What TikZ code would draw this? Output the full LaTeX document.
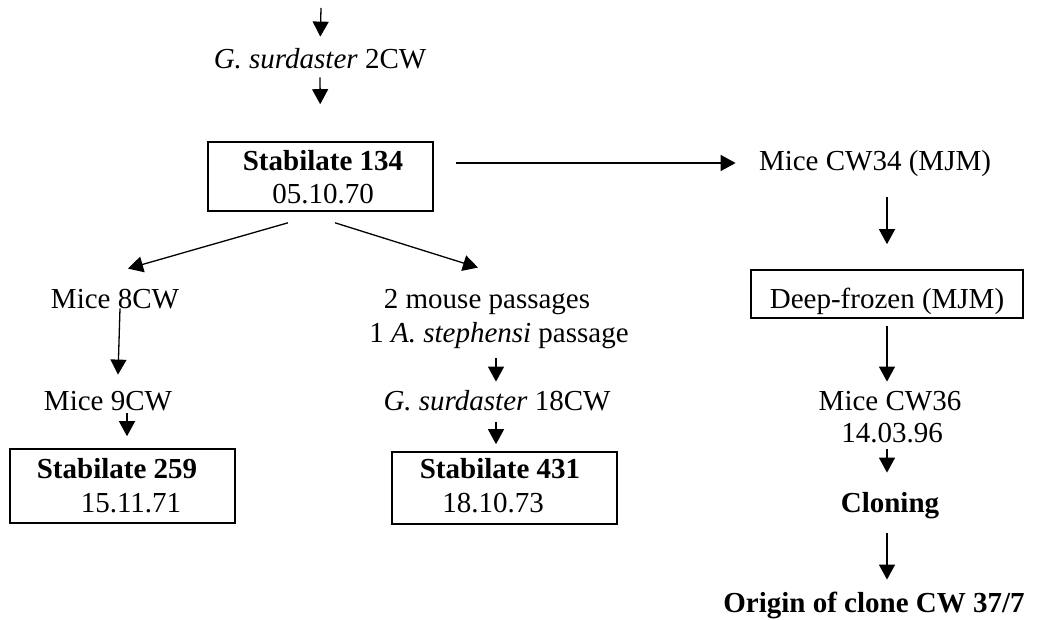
\documentclass[tikz,border=0pt]{standalone}
\usepackage{fontspec}
\setmainfont{Liberation Serif}
\usetikzlibrary{arrows.meta}
\tikzset{
	stage/.style={inner sep=0pt,anchor=base,text height=10pt,text depth=3pt,
		font=\fontsize{14.5}{17}\selectfont},
	stock/.style={draw,line width=0.8pt,inner sep=0pt},
	flow/.style={-{Triangle[length=7.5pt,width=8pt]},line width=0.65pt},
}
\begin{document}
\begin{tikzpicture}[x=0.5pt,y=-0.5pt]
			\useasboundingbox (0,0) rectangle (1053,620);

			% The main line down to the first stabilate.
			\coordinate (feed) at (321,8);
			\node[stage] (g2) at (320,69) {\textit{G. surdaster} 2CW};
			\node[stock,minimum width=112.5pt,minimum height=34.5pt] (s134) at (320.5,176.5) {};
			\node[stage] (s134a) at (323,170) {\textbf{Stabilate 134}};
			\node[stage] (s134b) at (323,204) {05.10.70};

			\draw[flow,shorten >=6pt] (feed) -- (g2.north);
			\draw[flow,shorten <=1pt,shorten >=18.5pt] (g2.south) -- (s134.north);

			% Left branch through two mouse passages.
			\node[stage] (m8) at (115,308) {Mice 8CW};
			\node[stage] (m9) at (108,410) {Mice 9CW};
			\node[stock,minimum width=112.5pt,minimum height=37pt] (s259) at (122.5,486) {};
			\node[stage] (s259a) at (117,478) {\textbf{Stabilate 259}};
			\node[stage] (s259b) at (131,512) {15.11.71};

			\draw[flow] ([shift={(-32.5,11)}]s134.south) -- ([shift={(13,-19)}]m8.north);
			\draw[flow] ([shift={(5,-6)}]m8.south) -- ([shift={(10,-15)}]m9.north);
			\draw[flow] ([shift={(19,-3)}]m9.south) -- ([shift={(4.5,-12)}]s259.north);

			% Middle branch, with the mosquito passage.
			\node[stage] (mp) at (487,308) {2 mouse passages};
			\node[stage] (ap) at (499,342) {1 \textit{A. stephensi} passage};
			\node[stage] (g18) at (497,410) {\textit{G. surdaster} 18CW};
			\node[stock,minimum width=112.5pt,minimum height=36pt] (s431) at (504.5,488) {};
			\node[stage] (s431a) at (500,478) {\textbf{Stabilate 431}};
			\node[stage] (s431b) at (493,512) {18.10.73};

			\draw[flow] ([shift={(14.5,11)}]s134.south) -- ([shift={(-9,-20)}]mp.north);
			\draw[flow] ([shift={(-3,10)}]ap.south) -- ([shift={(-1,-8)}]g18.north);
			\draw[flow] ([shift={(-1,6)}]g18.south) -- ([shift={(-8.5,-7)}]s431.north);

			% Right branch, kept frozen and then cloned.
			\node[stage] (cw34) at (875,170) {Mice CW34 (MJM)};
			\node[stock,minimum width=136pt,minimum height=24pt] (frozen) at (887,294) {};
			\node[stage] (frozena) at (887,308) {Deep-frozen (MJM)};
			\node[stage] (cw36) at (890,410) {Mice CW36};
			\node[stage] (cw36d) at (892,442) {14.03.96};
			\node[stage] (clon) at (890,512) {\textbf{Cloning}};
			\node[stage] (orig) at (874,612) {\textbf{Origin of clone CW 37/7}};

			\draw[flow,shorten <=11pt,shorten >=11.5pt] (s134.east |- cw34.west) -- (cw34.west);
			\draw[flow,shorten <=10.5pt,shorten >=12.5pt] (cw34.south -| frozen.north) -- (frozen.north);
			\draw[flow,shorten <=3.5pt,shorten >=4pt] (frozen.south) -- (frozen.south |- cw36.north);
			\draw[flow,shorten <=0.5pt,shorten >=9.5pt] (cw36d.south -| frozen.south) -- (clon.north -| frozen.south);
			\draw[flow,shorten <=7.5pt,shorten >=6pt] (clon.south -| frozen.south) -- (orig.north -| frozen.south);
		\end{tikzpicture}
\end{document}
